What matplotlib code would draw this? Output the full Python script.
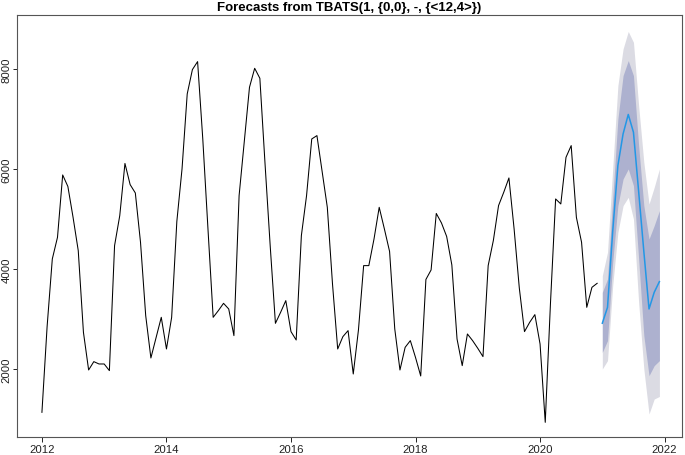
import sys

import matplotlib
matplotlib.use('Agg')
import matplotlib.pyplot as plt

import numpy as np


# monthly history, Jan 2012 .. Dec 2020
history = [
    1133, 2850, 4200, 4633, 5880, 5650, 5033, 4367, 2733, 1980, 2147, 2100,
    2100, 1967, 4467, 5067, 6110, 5687, 5520, 4533, 3067, 2220, 2627, 3033,
    2400, 3033, 4950, 6000, 7500, 7987, 8147, 6600, 4800, 3033, 3167, 3313,
    3200, 2667, 5467, 6550, 7633, 8013, 7813, 6100, 4450, 2913, 3133, 3367,
    2747, 2580, 4667, 5467, 6600, 6667, 5950, 5233, 3700, 2400, 2647, 2767,
    1900, 2780, 4067, 4067, 4600, 5233, 4800, 4350, 2800, 1980, 2433, 2567,
    2230, 1860, 3790, 3980, 5110, 4920, 4650, 4080, 2600, 2067, 2700, 2567,
    2413, 2247, 4067, 4570, 5267, 5533, 5820, 4800, 3620, 2747, 2933, 3087,
    2500, 933, 3300, 5400, 5300, 6233, 6467, 5033, 4533, 3233, 3633, 3713,
]

# forecast, Jan 2021 .. Dec 2021
fc_mean = [2915, 3233, 4750, 6067, 6700, 7090, 6733, 5550, 4350, 3200, 3533, 3747]
lo80 = [2333, 2567, 4133, 5267, 5800, 6000, 5667, 4200, 2667, 1867, 2067, 2167]
hi80 = [3533, 3800, 5400, 7000, 7867, 8167, 7867, 6467, 5267, 4600, 4867, 5167]
lo95 = [2000, 2167, 3667, 4733, 5267, 5433, 5000, 3333, 2000, 1100, 1400, 1450]
hi95 = [3867, 4333, 6000, 7667, 8400, 8750, 8533, 7267, 6133, 5300, 5633, 6000]

title = 'Forecasts from TBATS(1, {0,0}, -, {<12,4>})'
x_ticks = [2012, 2014, 2016, 2018, 2020, 2022]
y_ticks = [2000, 4000, 6000, 8000]


def main():
    plt.rcParams['font.family'] = ['Liberation Sans', 'DejaVu Sans']

    t_hist = 2012 + np.arange(len(history)) / 12.0
    t_fc = 2021 + np.arange(len(fc_mean)) / 12.0

    fig = plt.figure(figsize=(6.85, 4.56), dpi=100)
    ax = fig.add_axes([0.0253, 0.0395, 0.9699, 0.9261])

    # prediction intervals, 95 then 80
    ax.fill_between(t_fc, lo95, hi95, color='#DBDBE3', linewidth=0)
    ax.fill_between(t_fc, lo80, hi80, color='#ADB1CF', linewidth=0)

    ax.plot(t_hist, history, color='black', linewidth=0.75)
    ax.plot(t_fc, fc_mean, color='#2297E6', linewidth=1.1)

    ax.set_xlim(2011.605, 2022.275)
    ax.set_ylim(640, 9085)

    ax.set_xticks(x_ticks)
    ax.set_yticks(y_ticks)
    ax.set_xticklabels([str(x) for x in x_ticks])
    ax.set_yticklabels([str(y) for y in y_ticks], rotation=90, va='center')

    ax.tick_params(axis='x', length=3.5, width=0.7, pad=1.2, labelsize=8.2, colors='#222222')
    ax.tick_params(axis='y', length=3.0, width=0.7, pad=1.0, labelsize=8.2, colors='#222222')

    for s in ax.spines.values():
        s.set_color('#555555')
        s.set_linewidth(0.8)

    fig.text(0.0253 + 0.9699 / 2, 1 - 11.0 / 456, title, ha='center', va='baseline',
             fontsize=9.5, fontweight='bold')

    fig.savefig('out.png', dpi=100)


if __name__ == '__main__':
    sys.exit(main())
